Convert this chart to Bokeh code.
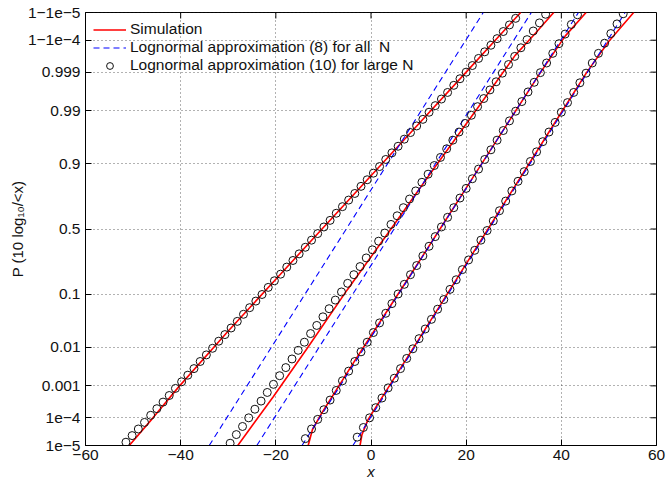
from statistics import NormalDist
from bokeh.plotting import figure
from bokeh.models import Range1d, FixedTicker
from bokeh.embed import file_html
from bokeh.resources import INLINE

# ---------------- axes ----------------
x_ticks = [-60, -40, -20, 0, 20, 40, 60]
x_tick_labels = ["−60", "−40", "−20", "0", "20", "40", "60"]
y_tick_probs = [1e-5, 1e-4, 0.001, 0.01, 0.1, 0.5, 0.9, 0.99, 0.999, 1 - 1e-4, 1 - 1e-5]
y_tick_labels = ["1e−5", "1e−4", "0.001", "0.01", "0.1", "0.5", "0.9", "0.99", "0.999", "1−1e−4", "1−1e−5"]
x_label = "x"
y_label = "P (10 log₁₀/<x)"

# ---------------- data (y given as normal score of P) ----------------
# Simulation (red)
sim1_x = [-50.8, -46.0, -40.5, -30.0, -20.0, -10.3, 0.0, 10.0, 20.0, 31.5]
sim1_q = [-4.265, -3.74, -3.12, -2.01, -0.99, 0.0, 1.05, 2.07, 3.09, 4.27]
sim2_x = [-28.0, -20.5, -13.4, -5.0, 4.2, 13.3, 22.3, 30.3, 34.6, 38.4]
sim2_q = [-4.265, -3.3, -2.35, -1.2, 0.0, 1.2, 2.37, 3.42, 3.86, 4.265]
sim3_x = [-13.2, -12.3, -10.5, -3.1, 7.3, 14.5, 21.8, 28.5, 35.6, 40.8, 45.2]
sim3_q = [-4.265, -3.95, -3.65, -2.55, -1.05, 0.0, 1.07, 2.05, 3.08, 3.80, 4.265]
sim4_x = [-2.3, -1.9, -0.6, 10.0, 24.6, 38.0, 45.3, 50.0, 55.2]
sim4_q = [-4.265, -4.05, -3.75, -2.18, 0.0, 2.0, 3.08, 3.7, 4.265]

# Lognormal approximation (8) for all N (blue dashed)
ap8_1_x = [-34.0, 23.6]
ap8_1_q = [-4.265, 4.265]
ap8_2_x = [-24.0, 33.7]
ap8_2_q = [-4.265, 4.265]
ap8_3_x = [-14.5, 43.6]
ap8_3_q = [-4.265, 4.265]
ap8_4_x = [-3.8, 53.4]
ap8_4_q = [-4.265, 4.265]

# Lognormal approximation (10) for large N (circles)
ap10_1_x = [-51.5, -50.2, -48.9, -47.6, -46.3, -45.0, -43.7, -42.4, -41.1, -39.8, -38.5, -37.2,
            -35.9, -34.6, -33.3, -32.0, -30.7, -29.4, -28.1, -26.8, -25.5, -24.2, -22.9, -21.6,
            -20.3, -19.0, -17.7, -16.4, -15.1, -13.8, -12.5, -11.2, -9.9, -8.6, -7.3, -6.0,
            -4.7, -3.4, -2.1, -0.8, 0.5, 1.8, 3.1, 4.4, 5.7, 7.0, 8.3, 9.6, 10.9, 12.2, 13.5,
            14.8, 16.1, 17.4, 18.7, 20.0, 21.3, 22.6, 23.9, 25.2, 26.5, 27.8, 29.1, 30.4]
ap10_1_q = [-4.20, -4.07, -3.94, -3.81, -3.67, -3.54, -3.41, -3.28, -3.14, -3.01, -2.88, -2.75,
            -2.61, -2.48, -2.35, -2.21, -2.08, -1.95, -1.82, -1.68, -1.55, -1.42, -1.29, -1.15,
            -1.02, -0.89, -0.75, -0.62, -0.49, -0.36, -0.22, -0.09, 0.04, 0.17, 0.31, 0.44,
            0.57, 0.70, 0.84, 0.97, 1.10, 1.23, 1.37, 1.50, 1.63, 1.77, 1.90, 2.03, 2.16, 2.30,
            2.43, 2.56, 2.69, 2.83, 2.96, 3.09, 3.22, 3.36, 3.49, 3.62, 3.75, 3.89, 4.02, 4.15]
ap10_2_x = [-29.6, -28.3, -27.0, -25.7, -24.4, -23.1, -21.8, -20.5, -19.2, -17.9, -16.6, -15.3,
            -14.0, -12.7, -11.4, -10.1, -8.8, -7.5, -6.2, -4.9, -3.6, -2.3, -1.0, 0.3, 1.6, 2.9,
            4.2, 5.5, 6.8, 8.1, 9.4, 10.7, 12.0, 13.3, 14.6, 15.9, 17.2, 18.5, 19.8, 21.1, 22.4,
            23.7, 25.0, 26.3, 27.6, 28.9, 30.2, 31.5, 32.8, 34.1, 35.4, 36.7]
ap10_2_q = [-4.22, -4.05, -3.89, -3.72, -3.55, -3.39, -3.22, -3.06, -2.89, -2.73, -2.56, -2.39,
            -2.23, -2.06, -1.90, -1.73, -1.57, -1.40, -1.24, -1.07, -0.90, -0.74, -0.57, -0.41,
            -0.24, -0.08, 0.09, 0.26, 0.42, 0.59, 0.75, 0.92, 1.08, 1.25, 1.41, 1.58, 1.75, 1.91,
            2.08, 2.24, 2.41, 2.57, 2.74, 2.90, 3.07, 3.24, 3.40, 3.57, 3.73, 3.90, 4.06, 4.23]
ap10_3_x = [-13.8, -12.5, -11.2, -9.9, -8.6, -7.3, -6.0, -4.7, -3.4, -2.1, -0.8, 0.5, 1.8, 3.1,
            4.4, 5.7, 7.0, 8.3, 9.6, 10.9, 12.2, 13.5, 14.8, 16.1, 17.4, 18.7, 20.0, 21.3, 22.6,
            23.9, 25.2, 26.5, 27.8, 29.1, 30.4, 31.7, 33.0, 34.3, 35.6, 36.9, 38.2, 39.5, 40.8,
            42.1, 43.4]
ap10_3_q = [-4.13, -3.94, -3.75, -3.56, -3.37, -3.18, -2.99, -2.80, -2.61, -2.42, -2.23, -2.04,
            -1.85, -1.66, -1.47, -1.28, -1.09, -0.90, -0.72, -0.53, -0.34, -0.15, 0.04, 0.23,
            0.42, 0.61, 0.80, 0.99, 1.18, 1.37, 1.56, 1.75, 1.94, 2.13, 2.32, 2.51, 2.70, 2.89,
            3.08, 3.27, 3.46, 3.65, 3.84, 4.03, 4.22]
ap10_4_x = [-2.9, -1.6, -0.3, 1.0, 2.3, 3.6, 4.9, 6.2, 7.5, 8.8, 10.1, 11.4, 12.7, 14.0, 15.3,
            16.6, 17.9, 19.2, 20.5, 21.8, 23.1, 24.4, 25.7, 27.0, 28.3, 29.6, 30.9, 32.2, 33.5,
            34.8, 36.1, 37.4, 38.7, 40.0, 41.3, 42.6, 43.9, 45.2, 46.5, 47.8, 49.1, 50.4, 51.7,
            53.0]
ap10_4_q = [-4.10, -3.91, -3.72, -3.52, -3.33, -3.13, -2.94, -2.75, -2.55, -2.36, -2.16, -1.97,
            -1.78, -1.58, -1.39, -1.19, -1.00, -0.80, -0.61, -0.42, -0.22, -0.03, 0.16, 0.36,
            0.55, 0.75, 0.94, 1.13, 1.33, 1.52, 1.72, 1.91, 2.10, 2.30, 2.49, 2.69, 2.88, 3.07,
            3.27, 3.46, 3.66, 3.85, 4.04, 4.24]

# ---------------- figure ----------------
FONT = "Liberation Sans"
TXT = "#111111"
nd = NormalDist()
y_tick_pos = [nd.inv_cdf(v) for v in y_tick_probs]
ylo, yhi = y_tick_pos[0], y_tick_pos[-1]
xlo, xhi = x_ticks[0], x_ticks[-1]

W, H = 667, 482
BL, BR, BT, BB = 85, 11, 12, 36
FW, FH = W - BL - BR, H - BT - BB
TICK = 6

p = figure(width=W, height=H, output_backend="svg", toolbar_location=None,
           x_range=Range1d(xlo, xhi), y_range=Range1d(ylo - 1e-9, yhi + 1e-9),
           min_border_left=BL, min_border_right=BR, min_border_top=BT, min_border_bottom=BB,
           x_axis_label=x_label, y_axis_label=y_label)
p.background_fill_color = "white"
p.border_fill_color = "white"
p.outline_line_color = "black"
p.outline_line_width = 1

xax = p.below[0]
yax = p.left[0]
xax.ticker = FixedTicker(ticks=x_ticks)
xax.major_label_overrides = {t: l for t, l in zip(x_ticks, x_tick_labels)}
yax.ticker = FixedTicker(ticks=y_tick_pos)
yax.major_label_overrides = {t: l for t, l in zip(y_tick_pos, y_tick_labels)}
for ax in (xax, yax):
    ax.major_tick_in = TICK
    ax.major_tick_out = 0
    ax.minor_tick_line_color = None
    ax.axis_line_color = "black"
    ax.major_tick_line_color = "black"
    ax.major_label_text_font = FONT
    ax.major_label_text_font_size = "15.5px"
    ax.major_label_text_color = TXT
    ax.axis_label_text_font = FONT
    ax.axis_label_text_font_size = "15px"
    ax.axis_label_text_color = TXT
xax.major_label_standoff = 4
xax.axis_label_standoff = 0
xax.axis_label_text_font_style = "italic"
yax.major_label_standoff = 5
yax.axis_label_standoff = -1
yax.axis_label_text_font_style = "normal"

p.xgrid.ticker = FixedTicker(ticks=x_ticks)
p.ygrid.ticker = FixedTicker(ticks=y_tick_pos)
for g in (p.xgrid, p.ygrid):
    g.grid_line_color = "#222222"
    g.grid_line_alpha = 0.7
    g.grid_line_dash = "1 3"
    g.grid_line_width = 1

# ticks on the top and right edges of the box (inward)
ty = TICK * (yhi - ylo) / FH
tx = TICK * (xhi - xlo) / FW
p.segment(x0=x_ticks, y0=[yhi] * len(x_ticks), x1=x_ticks, y1=[yhi - ty] * len(x_ticks),
          line_color="black", line_width=1)
p.segment(x0=[xhi] * len(y_tick_pos), y0=y_tick_pos, x1=[xhi - tx] * len(y_tick_pos),
          y1=y_tick_pos, line_color="black", line_width=1)

RED = "#ff0000"
BLUE = "#0000ff"
sims = [(sim1_x, sim1_q), (sim2_x, sim2_q), (sim3_x, sim3_q), (sim4_x, sim4_q)]
ap8 = [(ap8_1_x, ap8_1_q), (ap8_2_x, ap8_2_q), (ap8_3_x, ap8_3_q), (ap8_4_x, ap8_4_q)]
ap10 = [(ap10_1_x, ap10_1_q), (ap10_2_x, ap10_2_q), (ap10_3_x, ap10_3_q), (ap10_4_x, ap10_4_q)]

for i, (xs, qs) in enumerate(sims):
    kw = {"legend_label": "Simulation"} if i == 0 else {}
    p.line(xs, qs, line_color=RED, line_width=1.6, **kw)
for i, (xs, qs) in enumerate(ap8):
    kw = {"legend_label": "Lognormal approximation (8) for all  N"} if i == 0 else {}
    p.line(xs, qs, line_color=BLUE, line_width=1.1, line_dash="6 4", **kw)
for i, (xs, qs) in enumerate(ap10):
    kw = {"legend_label": "Lognormal approximation (10) for large N"} if i == 0 else {}
    p.scatter(xs, qs, marker="circle", size=8, fill_color=None, line_color=TXT,
              line_width=1, **kw)

lg = p.legend[0]
lg.location = "top_left"
lg.margin = 0
lg.padding = 8
lg.spacing = 0
lg.label_height = 17
lg.glyph_height = 17
lg.glyph_width = 33
lg.label_standoff = 4
lg.label_text_font = FONT
lg.label_text_font_size = "15.5px"
lg.label_text_color = TXT
lg.background_fill_alpha = 0
lg.border_line_alpha = 0

open("out.html", "w").write(file_html(p, INLINE))
